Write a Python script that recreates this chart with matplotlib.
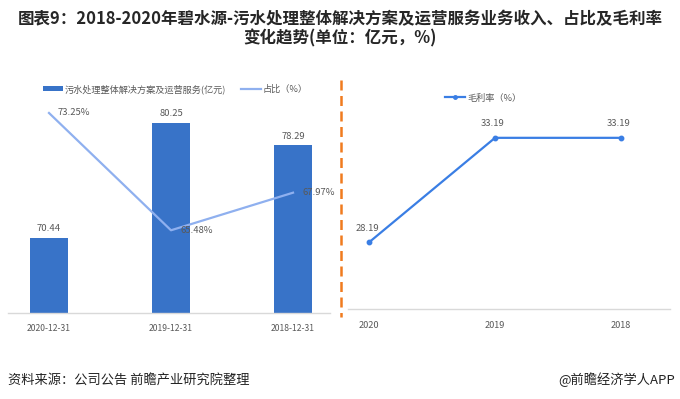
import matplotlib
matplotlib.use("Agg")
import matplotlib.pyplot as plt
from matplotlib.lines import Line2D
from matplotlib.patches import Patch

plt.rcParams['font.family'] = ['Noto Sans CJK SC', 'DejaVu Sans']

# ---- data ----
left_dates = ["2020-12-31", "2019-12-31", "2018-12-31"]
revenue = [70.44, 80.25, 78.29]           # 亿元
share = [73.25, 65.48, 67.97]             # %
right_years = ["2020", "2019", "2018"]
gross_margin = [28.19, 33.19, 33.19]      # %

title_text = "图表9：2018-2020年碧水源-污水处理整体解决方案及运营服务业务收入、占比及毛利率\n变化趋势(单位：亿元，%)"
bar_legend = "污水处理整体解决方案及运营服务(亿元)"
line_legend = "占比（%）"
right_legend = "毛利率（%）"
source_text = "资料来源：公司公告 前瞻产业研究院整理"
credit_text = "@前瞻经济学人APP"

W, H = 680, 399
fig = plt.figure(figsize=(W / 100, H / 100), dpi=100)

def px_axes(x0, y0, x1, y1):
    return fig.add_axes([x0 / W, 1 - y1 / H, (x1 - x0) / W, (y1 - y0) / H])

bar_color = "#3873c8"
share_color = "#8fb0ef"
gm_color = "#3a7ee4"
txt_gray = "#595959"
base_gray = "#d9d9d9"
lab_fs = 6.8
tick_fs = 6.2
leg_fs = 6.6

# ---- left panel ----
axL = px_axes(8, 100, 330, 313)
x = list(range(len(left_dates)))
axL.bar(x, revenue, width=0.31, bottom=0, color=bar_color, zorder=2)
axL.set_ylim(64, 82.17)
axL.set_xlim(-0.336, 2.303)
for xi, v in zip(x, revenue):
    axL.annotate(f"{v:.2f}", (xi, v), xytext=(0, 9), textcoords="offset pixels",
                 ha="center", va="center", fontsize=lab_fs, color=txt_gray)
axL.set_xticks(x)
axL.set_xticklabels(left_dates, fontsize=tick_fs, color=txt_gray)
axL.tick_params(axis="x", length=0, pad=8)
axL.set_yticks([])
for s in ["top", "left", "right"]:
    axL.spines[s].set_visible(False)
axL.spines["bottom"].set_color(base_gray)
axL.spines["bottom"].set_linewidth(1.0)

axL2 = axL.twinx()
axL2.plot(x, share, color=share_color, lw=1.6, zorder=3)
axL2.set_ylim(60, 74.11)
axL2.set_yticks([])
for s in ["top", "left", "right", "bottom"]:
    axL2.spines[s].set_visible(False)
for xi, v in zip(x, share):
    axL2.annotate(f"{v:.2f}%", (xi, v), xytext=(9, 0), textcoords="offset pixels",
                  ha="left", va="center", fontsize=lab_fs, color=txt_gray)

handles = [Patch(facecolor=bar_color, edgecolor="none"),
           Line2D([0], [0], color=share_color, lw=1.6)]
fig.legend(handles, [bar_legend, line_legend], loc="center left",
           bbox_to_anchor=(43 / W, 1 - 89 / H), ncol=2, frameon=False,
           fontsize=leg_fs, handlelength=2.2, handleheight=0.5, columnspacing=1.6,
           handletextpad=0.2, labelcolor=txt_gray, borderaxespad=0, borderpad=0)

# ---- separator ----
fig.add_artist(Line2D([341 / W, 341 / W], [1 - 80 / H, 1 - 317 / H],
                      color="#f07b1e", lw=1.8, linestyle=(0, (4, 2.2))))

# ---- right panel ----
axR = px_axes(348, 100, 670, 309)
xr = list(range(len(right_years)))
axR.plot(xr, gross_margin, color=gm_color, lw=1.6, marker="o", ms=3.2, zorder=3)
axR.set_ylim(25, 35)
axR.set_xlim(-0.167, 2.389)
for xi, v in zip(xr, gross_margin):
    axR.annotate(f"{v:.2f}", (xi, v), xytext=(-2, 14), textcoords="offset pixels",
                 ha="center", va="center", fontsize=lab_fs, color=txt_gray)
axR.set_xticks(xr)
axR.set_xticklabels(right_years, fontsize=6.6, color=txt_gray)
axR.tick_params(axis="x", length=0, pad=9)
axR.set_yticks([])
for s in ["top", "left", "right"]:
    axR.spines[s].set_visible(False)
axR.spines["bottom"].set_color(base_gray)
axR.spines["bottom"].set_linewidth(1.0)

fig.legend([Line2D([0], [0], color=gm_color, lw=1.6, marker="o", ms=2.5)], [right_legend],
           loc="center left", bbox_to_anchor=(445 / W, 1 - 98 / H), frameon=False,
           fontsize=leg_fs, handlelength=2.2, handletextpad=0.2, labelcolor=txt_gray,
           borderaxespad=0, borderpad=0)

# ---- title & footer ----
fig.text(0.5, 1 - 29 / H, title_text, ha="center", va="center", fontsize=11.9,
         fontweight="bold", color="#262626", linespacing=1.1)
fig.text(8 / W, 1 - 380 / H, source_text, ha="left", va="center", fontsize=9.5, color="#222222")
fig.text(675 / W, 1 - 380 / H, credit_text, ha="right", va="center", fontsize=9.5, color="#222222")

fig.savefig("out.png", dpi=100, facecolor="white")
